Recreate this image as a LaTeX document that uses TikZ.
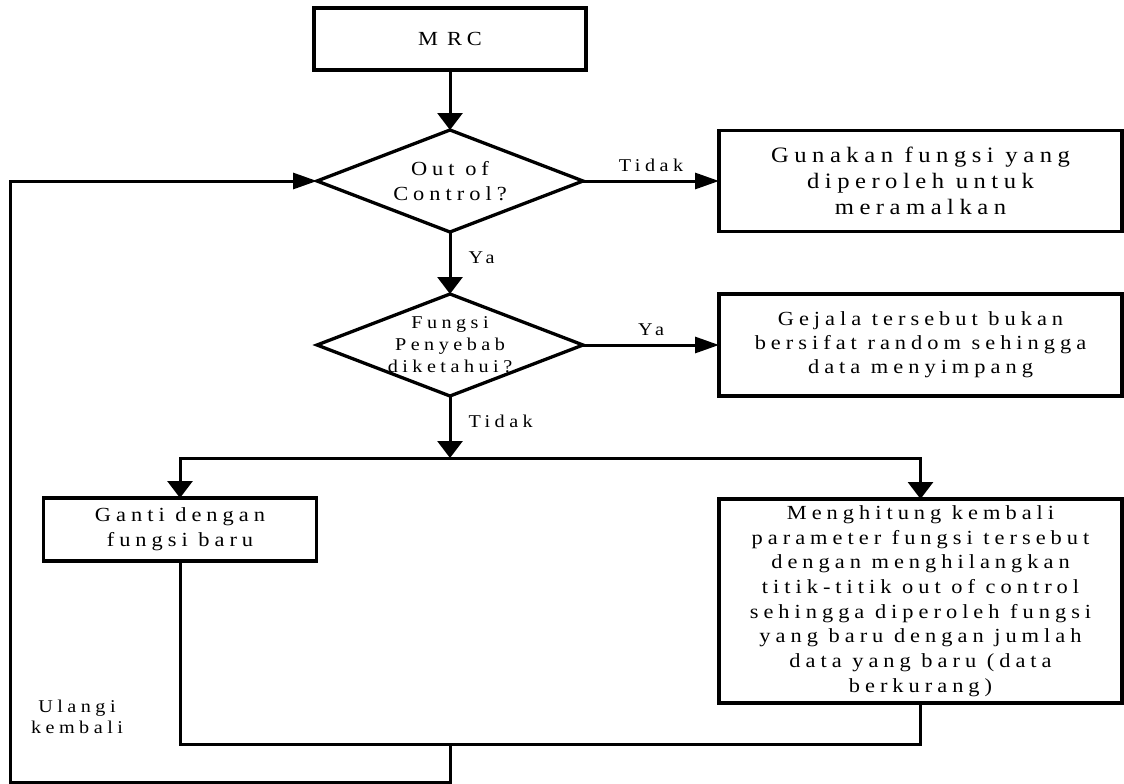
\documentclass[tikz,border=0pt]{standalone}
\usepackage{fontspec}
\setmainfont{Liberation Serif}[FakeStretch=1.12,LetterSpace=25]
\usetikzlibrary{arrows.meta}
\usetikzlibrary{positioning}
\usetikzlibrary{shapes.geometric}
\tikzset {
  flow path/.style = {
    draw = black,
    line width = 3pt
  },
  % connector going down, with its head
  vflow/.style = {
    flow path,
    -{Triangle[length=17pt,width=25pt]}
  },
  % connector going sideways, with its head
  hflow/.style = {
    flow path,
    -{Triangle[length=24pt,width=16pt]}
  },
  % path style with no arrows
  nflow/.style = {
    flow path
  }
}
\tikzset {
  flow node/.style = {
    draw = black,
    line width = 3.3pt,
    inner sep = 0pt,
    outer sep = 0pt,
    align = center,
    font = \fontsize{20}{24.7}\selectfont
  },
  % process box
  proc/.style = {
    flow node,
    rectangle
  },
  % decision symbol, the text goes in a dtext node
  decide/.style = {
    flow node,
    diamond,
    minimum width = 266pt,
    minimum height = 102pt
  },
  dtext/.style = {
    inner sep = 0pt,
    align = center,
    font = \fontsize{20}{25}\selectfont
  },
  % branch labels
  hlbl/.style = {
    inner sep = 0pt,
    font = \fontsize{18}{21}\selectfont,
    anchor = base,
    yshift = 10pt
  },
  vlbl/.style = {
    inner sep = 0pt,
    font = \fontsize{18}{21}\selectfont,
    anchor = base west,
    xshift = 17pt
  },
  note/.style = {
    inner sep = 0pt,
    align = center,
    font = \fontsize{18}{21}\selectfont
  }
}
\begin{document}
\begin{tikzpicture}[x=1pt,y=-1pt]
    \useasboundingbox (0,0) rectangle (1124,784);

    \node[proc, minimum width=272pt, minimum height=62pt] (mrc) at (450,39) {M\hspace{9pt}RC};
    \node[decide] (ooc) [below=60pt of mrc] {};
    \node[dtext] (ooctext) at (ooc) {Out of\\Control?};
    \node[proc, minimum width=403pt, minimum height=101pt, font=\fontsize{22}{26}\selectfont] (gunakan) [right=136pt of ooc]
      {Gunakan fungsi yang\\diperoleh untuk\\meramalkan};
    \node[decide] (fp) [below=62pt of ooc] {};
    \node[dtext, font=\fontsize{18}{22}\selectfont] (fptext) at (fp) {Fungsi\\Penyebab\\diketahui?};
    \node[proc, minimum width=403pt, minimum height=102pt, font=\fontsize{20}{24}\selectfont] (gejala) [right=136pt of fp]
      {Gejala tersebut bukan\\bersifat random sehingga\\data menyimpang};
    \coordinate[below=62pt of fp] (split);
    \node[proc, minimum width=273pt, minimum height=63pt, font=\fontsize{20}{25}\selectfont] (ganti) at (180,529.5)
      {Ganti dengan\\fungsi baru};
    \node[proc, minimum width=403pt, minimum height=204pt] (hitung) [below=103pt of gejala]
      {Menghitung kembali\\parameter fungsi tersebut\\dengan menghilangkan\\titik-titik out of control\\sehingga diperoleh fungsi\\yang baru dengan jumlah\\data yang baru (data\\berkurang)};
    \coordinate (merge) at (450,744);
    \coordinate (loop) at (10,782);
    \node[note] (ulangi) at (77,717) {Ulangi\\kembali};

    \draw[vflow] (mrc) -- (ooc);
    \draw[hflow] (ooc.east) -- (gunakan.west) node[midway, hlbl] {Tidak};
    \draw[vflow] (ooc) -- (fp) node[midway, vlbl] {Ya};
    \draw[hflow] (fp.east) -- (gejala.west) node[midway, hlbl] {Ya};
    \draw[vflow] (fp) -- (split) node[midway, vlbl] {Tidak};
    \draw[vflow] (split) -| (ganti.north);
    \draw[vflow] (split) -| (hitung.north);
    \draw[nflow] (ganti.south) |- (merge) -| (hitung.south);
    \draw[hflow] (merge) |- (loop) |- (ooc.west);
\end{tikzpicture}
\end{document}
